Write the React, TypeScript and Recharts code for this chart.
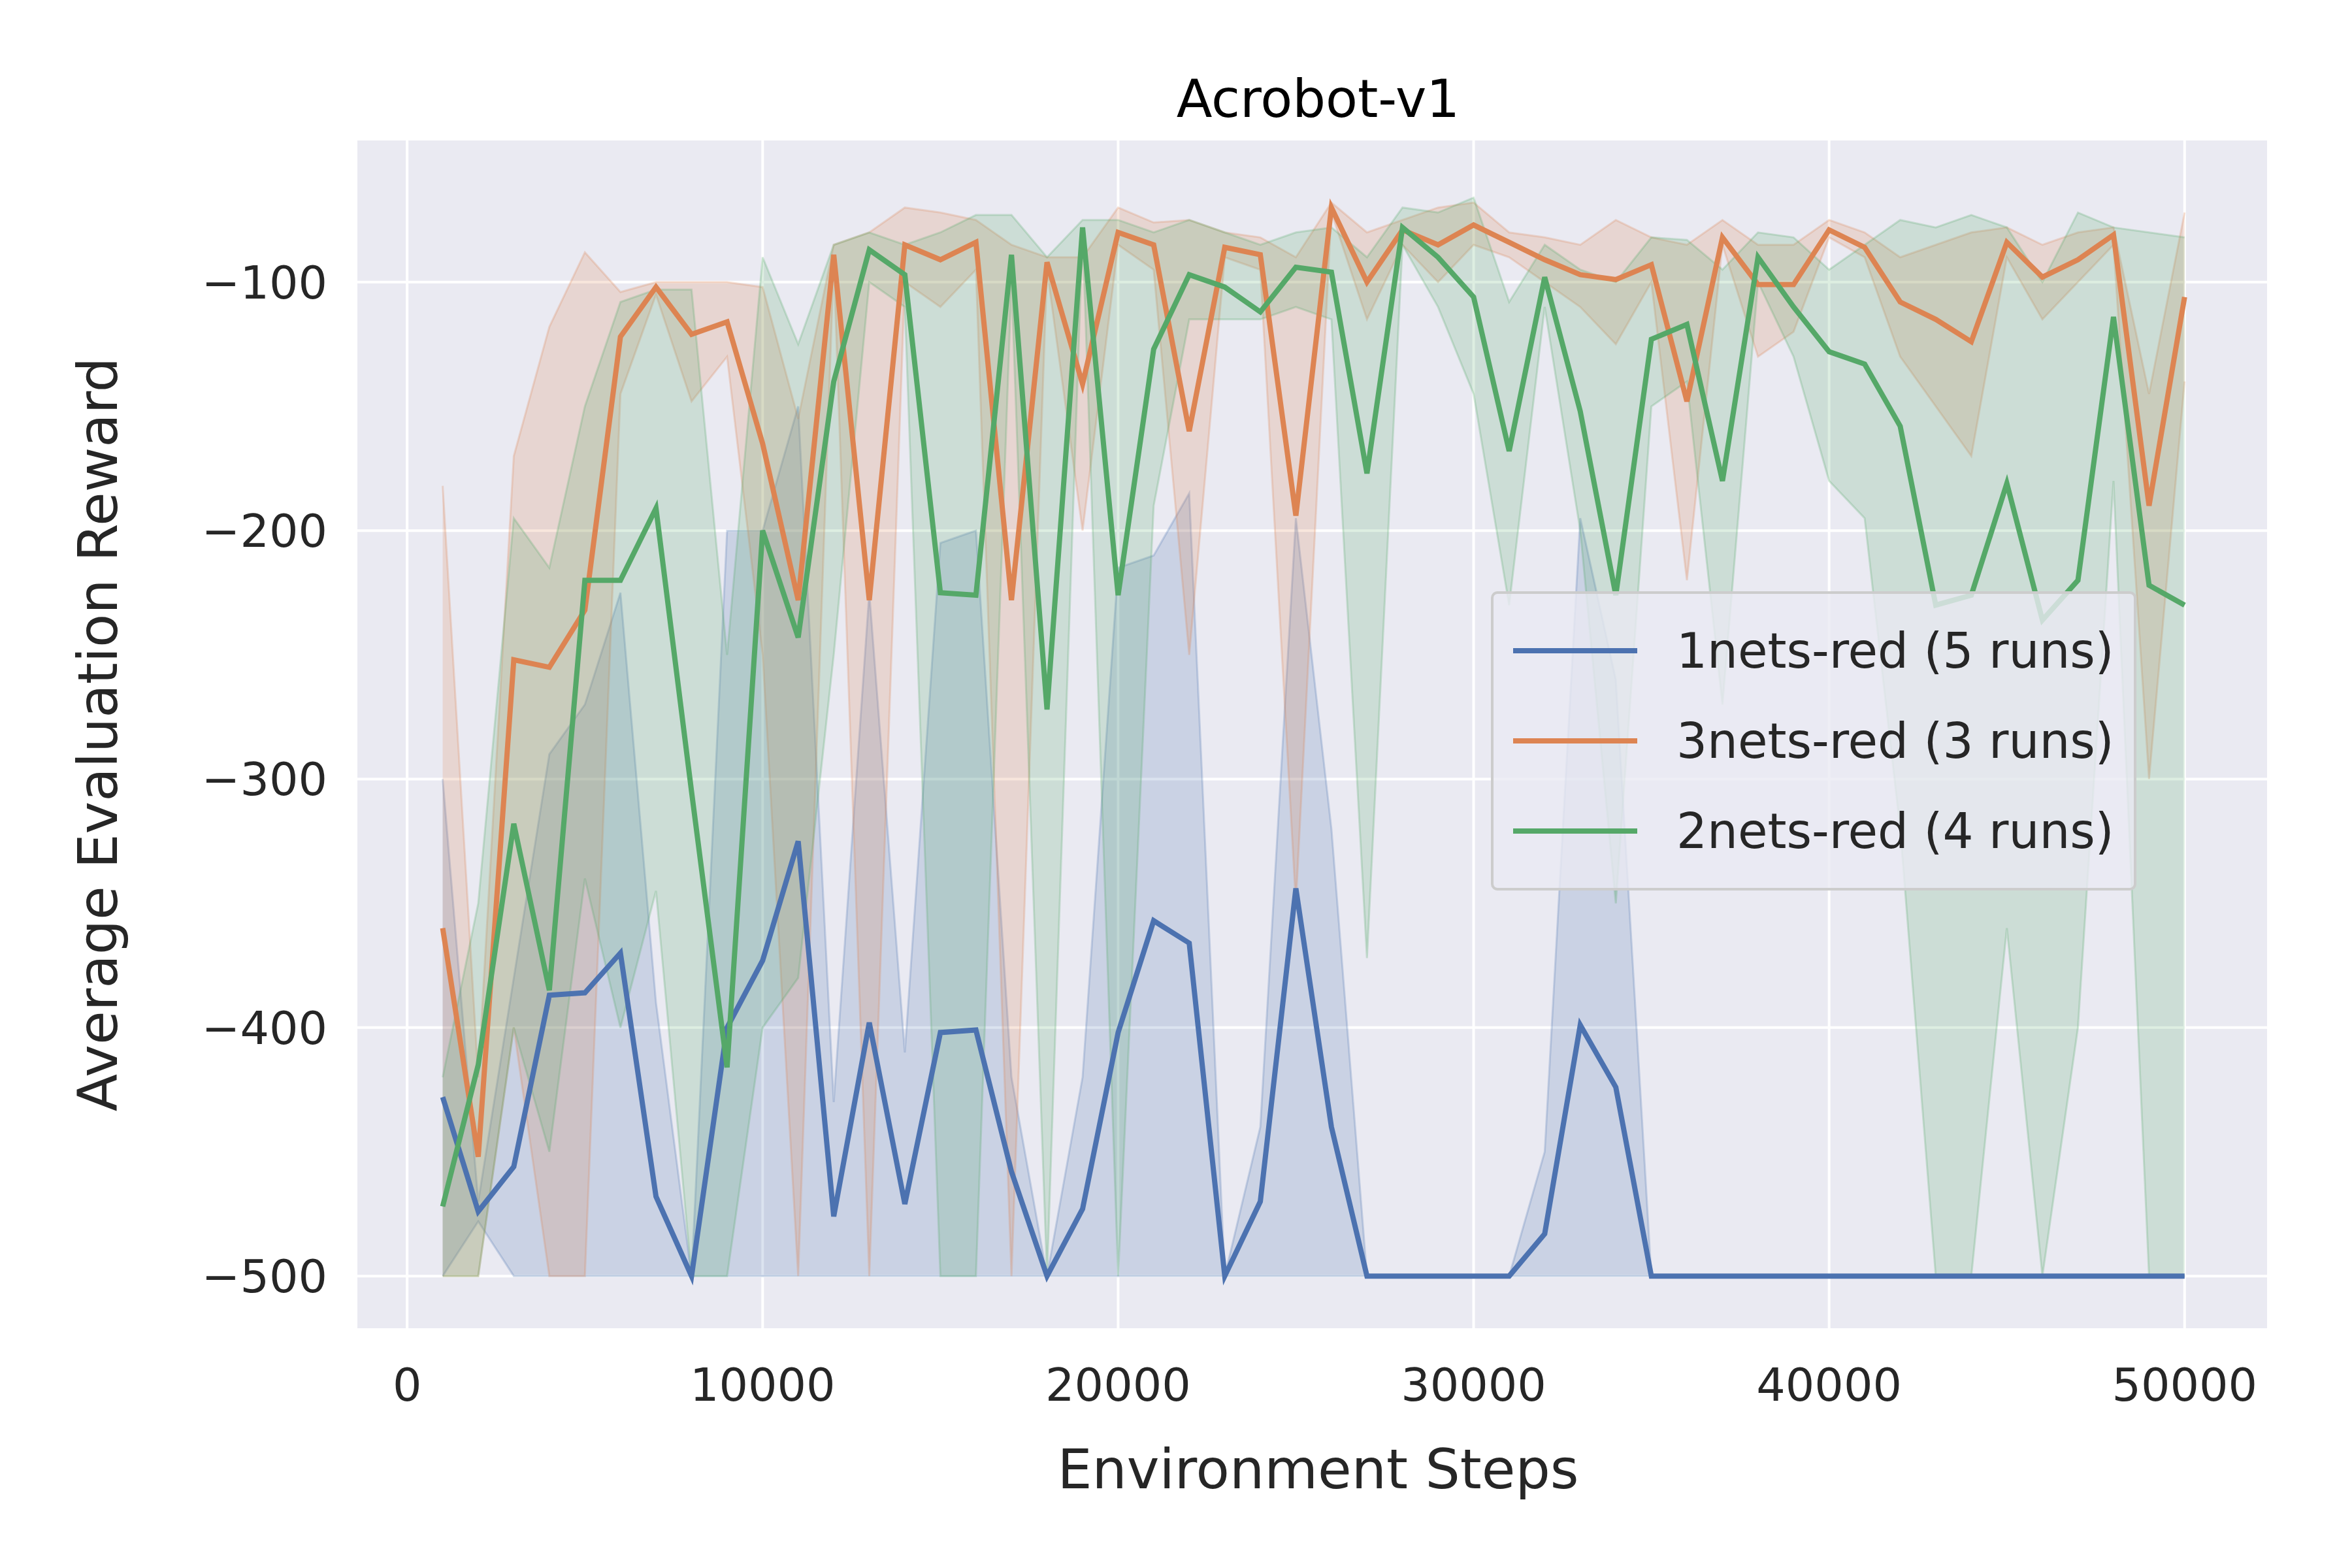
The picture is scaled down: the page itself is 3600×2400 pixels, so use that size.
import { Area, CartesianGrid, ComposedChart, Line, XAxis, YAxis } from "recharts";

const steps = Array.from({ length: 50 }, (_, i) => (i + 1) * 1000);

const blueMean = [-428, -474, -456, -387, -386, -370, -468, -500, -400, -373, -325, -476, -398, -471, -402, -401, -458, -500, -473, -402, -357, -366, -500, -470, -344, -440, -500, -500, -500, -500, -500, -483, -399, -424, -500, -500, -500, -500, -500, -500, -500, -500, -500, -500, -500, -500, -500, -500, -500, -500];
const blueHi = [-300, -470, -380, -290, -270, -225, -390, -500, -200, -200, -150, -430, -225, -410, -205, -200, -420, -500, -420, -215, -210, -185, -500, -440, -195, -320, -500, -500, -500, -500, -500, -450, -195, -260, -500, -500, -500, -500, -500, -500, -500, -500, -500, -500, -500, -500, -500, -500, -500, -500];
const blueLo = [-500, -478, -500, -500, -500, -500, -500, -500, -500, -500, -500, -500, -500, -500, -500, -500, -500, -500, -500, -500, -500, -500, -500, -500, -500, -500, -500, -500, -500, -500, -500, -500, -500, -500, -500, -500, -500, -500, -500, -500, -500, -500, -500, -500, -500, -500, -500, -500, -500, -500];

const orangeMean = [-360, -452, -252, -255, -232, -122, -102, -121, -116, -165, -228, -89, -228, -85, -91, -84, -228, -92, -141, -80, -85, -160, -86, -89, -194, -70, -100, -79, -85, -77, -84, -91, -97, -99, -93, -148, -82, -101, -101, -79, -86, -108, -115, -124, -84, -98, -91, -81, -190, -106];
const orangeHi = [-182, -420, -170, -118, -88, -104, -100, -100, -100, -102, -155, -85, -80, -70, -72, -75, -85, -90, -90, -70, -76, -75, -80, -82, -90, -68, -80, -75, -70, -68, -80, -82, -85, -75, -82, -85, -75, -85, -85, -75, -80, -90, -85, -80, -78, -85, -80, -78, -145, -72];
const orangeLo = [-500, -500, -400, -500, -500, -145, -105, -148, -130, -250, -500, -92, -500, -100, -110, -95, -500, -95, -200, -85, -95, -250, -90, -95, -350, -72, -115, -85, -100, -85, -90, -100, -110, -125, -100, -220, -85, -130, -120, -82, -90, -130, -150, -170, -90, -115, -100, -85, -300, -140];

const greenMean = [-472, -415, -318, -385, -220, -220, -191, -305, -416, -200, -243, -140, -87, -97, -225, -226, -89, -272, -78, -226, -127, -97, -102, -112, -94, -96, -177, -78, -90, -106, -168, -98, -152, -226, -123, -117, -180, -90, -110, -128, -133, -158, -230, -226, -181, -236, -220, -114, -222, -230];
const greenHi = [-420, -350, -195, -215, -150, -108, -103, -103, -250, -90, -125, -85, -80, -85, -80, -73, -73, -90, -75, -75, -80, -75, -80, -85, -80, -78, -90, -70, -72, -66, -108, -85, -95, -100, -82, -83, -95, -80, -82, -95, -85, -75, -78, -73, -78, -100, -72, -78, -80, -82];
const greenLo = [-500, -500, -400, -450, -340, -400, -345, -500, -500, -400, -380, -250, -100, -110, -500, -500, -100, -500, -80, -500, -190, -115, -115, -115, -110, -115, -372, -85, -110, -145, -230, -110, -200, -350, -150, -140, -270, -100, -130, -180, -195, -320, -500, -500, -360, -500, -400, -180, -500, -500];

const xTicks = [0, 10000, 20000, 30000, 40000, 50000];
const yTicks = [-500, -400, -300, -200, -100];

const series = [
  { key: "b", name: "1nets-red (5 runs)", color: "#4C72B0" },
  { key: "o", name: "3nets-red (3 runs)", color: "#DD8452" },
  { key: "g", name: "2nets-red (4 runs)", color: "#55A868" },
];

const data = steps.map((s, i) => ({
  step: s,
  b: blueMean[i], bR: [blueLo[i], blueHi[i]],
  o: orangeMean[i], oR: [orangeLo[i], orangeHi[i]],
  g: greenMean[i], gR: [greenLo[i], greenHi[i]],
}));

const font = "'DejaVu Sans', sans-serif";
const tick = { fontSize: 70, fill: "#262626", fontFamily: font };
const minus = (v: number) => String(v).replace("-", "\u2212");

function LegendBox() {
  return (
    <div style={{ position: "absolute", left: 2282, top: 905, zIndex: 2, background: "rgba(234,234,242,0.8)", border: "4px solid #cccccc", borderRadius: 10, padding: "18px 30px", fontFamily: font, fontSize: 74, color: "#262626" }}>
      {series.map((s) => (
        <div key={s.key} style={{ display: "flex", alignItems: "center", height: 138 }}>
          <div style={{ width: 190, height: 8, background: s.color, marginRight: 60 }} />
          {s.name}
        </div>
      ))}
    </div>
  );
}

export default function App() {
  return (
    <div style={{ position: "relative", width: 3600, height: 2400, margin: -8, background: "#fff" }}>
      <div style={{ position: "absolute", top: 105, left: 547, width: 2941, textAlign: "center", fontFamily: font, fontSize: 80, color: "#000" }}>
        Acrobot-v1
      </div>
      <div style={{ position: "absolute", top: 2200, left: 547, width: 2941, textAlign: "center", fontFamily: font, fontSize: 84, color: "#262626" }}>
        Environment Steps
      </div>
      <div style={{ position: "absolute", left: 150, top: 1124, transform: "translate(-50%, -50%) rotate(-90deg)", whiteSpace: "nowrap", fontFamily: font, fontSize: 84, color: "#262626" }}>
        Average Evaluation Reward
      </div>
      <LegendBox />
      <ComposedChart width={3600} height={2400} data={data} margin={{ top: 215, right: 130, bottom: 0, left: 0 }}>
        <CartesianGrid fill="#EAEAF2" stroke="#ffffff" strokeWidth={4} horizontalValues={yTicks} verticalValues={xTicks} />
        <XAxis dataKey="step" type="number" domain={[-1400, 52320]} ticks={xTicks} allowDataOverflow tick={tick} tickLine={false} axisLine={false} tickMargin={55} height={367} />
        <YAxis type="number" domain={[-521, -43]} ticks={yTicks} allowDataOverflow tick={tick} tickLine={false} axisLine={false} tickMargin={40} width={547} tickFormatter={minus} />
        {series.map((s) => (
          <Area key={s.key + "R"} dataKey={s.key + "R"} type="linear" fill={s.color} fillOpacity={0.2} stroke={s.color} strokeOpacity={0.25} strokeWidth={3} isAnimationActive={false} legendType="none" />
        ))}
        {series.map((s) => (
          <Line key={s.key} dataKey={s.key} name={s.name} type="linear" stroke={s.color} strokeWidth={8} dot={false} isAnimationActive={false} />
        ))}
      </ComposedChart>
    </div>
  );
}
